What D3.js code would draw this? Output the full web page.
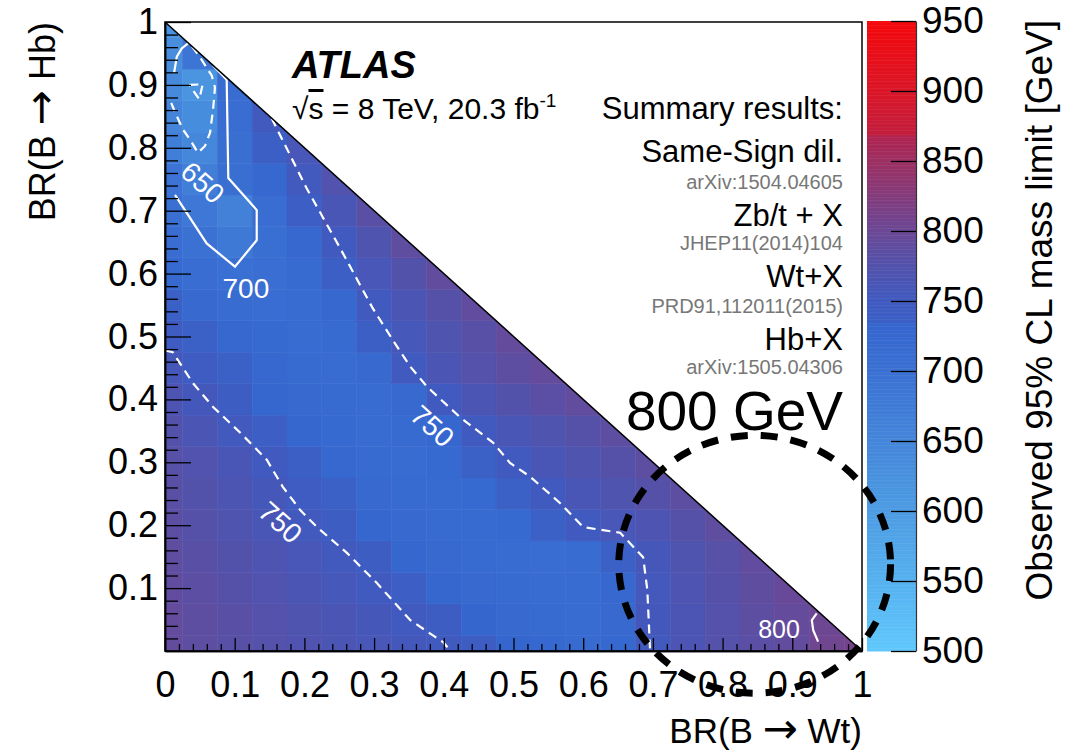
<!DOCTYPE html>
<html>
<head>
<meta charset="utf-8">
<script src="https://cdn.jsdelivr.net/npm/d3@7"></script>
<style>
body { margin: 0; background: #fff; }
svg text { font-family: "Liberation Sans", Arial, Helvetica, sans-serif; }
</style>
</head>
<body>
<svg id="chart" width="1083" height="756"></svg>
<script>

// bin centres
var brWt = [0, 0.05, 0.1, 0.15, 0.2, 0.25, 0.3, 0.35, 0.4, 0.45, 0.5,
            0.55, 0.6, 0.65, 0.7, 0.75, 0.8, 0.85, 0.9, 0.95, 1];
var brHb = [0, 0.05, 0.1, 0.15, 0.2, 0.25, 0.3, 0.35, 0.4, 0.45, 0.5,
            0.55, 0.6, 0.65, 0.7, 0.75, 0.8, 0.85, 0.9, 0.95, 1];

// observed mass limit [GeV], one row per BR(B->Hb) bin, columns along BR(B->Wt)
var massLimit = [
    [792, 786, 781, 776, 771, 765, 760, 755, 751, 742, 733, 726, 720, 726, 753, 766, 776, 783, 791, 805, 810],
    [793, 787, 782, 776, 770, 764, 757, 751, 742, 733, 725, 720, 716, 724, 755, 766, 776, 786, 794, 803],
    [790, 785, 778, 772, 765, 758, 751, 740, 732, 725, 720, 715, 714, 727, 756, 768, 778, 788, 797],
    [788, 782, 775, 768, 760, 752, 742, 732, 725, 720, 715, 712, 716, 735, 757, 770, 780, 790],
    [785, 778, 770, 762, 753, 742, 732, 725, 720, 718, 722, 735, 750, 760, 768, 778, 788],
    [782, 775, 767, 757, 745, 735, 725, 720, 718, 722, 735, 751, 762, 770, 778, 786],
    [780, 772, 763, 750, 738, 728, 720, 716, 722, 735, 751, 762, 770, 778, 786],
    [775, 765, 752, 740, 730, 722, 716, 718, 730, 750, 762, 770, 778, 786],
    [768, 755, 742, 732, 725, 718, 715, 725, 750, 765, 775, 783, 791],
    [757, 744, 735, 727, 720, 715, 725, 751, 765, 776, 786, 794],
    [745, 735, 728, 722, 716, 720, 738, 758, 770, 781, 793],
    [735, 725, 715, 712, 715, 728, 751, 765, 778, 790],
    [722, 712, 703, 708, 718, 738, 760, 775, 791],
    [712, 700, 682, 705, 728, 751, 770, 788],
    [704, 685, 662, 712, 740, 762, 782],
    [695, 670, 706, 728, 752, 772],
    [668, 648, 706, 738, 760],
    [655, 635, 712, 752],
    [640, 615, 715],
    [632, 690],
    [622]
];

var zTicks = [500, 550, 600, 650, 700, 750, 800, 850, 900, 950];
var xTickValues = [0, 0.1, 0.2, 0.3, 0.4, 0.5, 0.6, 0.7, 0.8, 0.9, 1];
var xTickLabels = ['0', '0.1', '0.2', '0.3', '0.4', '0.5', '0.6', '0.7', '0.8', '0.9', '1'];
var yTickValues = [0.1, 0.2, 0.3, 0.4, 0.5, 0.6, 0.7, 0.8, 0.9, 1];
var yTickLabels = ['0.1', '0.2', '0.3', '0.4', '0.5', '0.6', '0.7', '0.8', '0.9', '1'];

var paletteStops = [500, 550, 600, 650, 700, 734, 735, 750, 779, 800, 850, 868, 869, 900, 950];
var paletteColours = ['#60c8fc', '#56b1ef', '#4d9ce3', '#4586da', '#3b71d3', '#3566ce', '#3b60c6',
                      '#405ac0', '#5651a8', '#6b4896', '#9c3062', '#b02450', '#c21e3e', '#da1628', '#f4080c'];

// contour lines, in (BR(B->Wt), BR(B->Hb))
var contour700a = [[0.013, 0.919], [0.017, 0.945], [0.024, 0.958], [0.0335, 0.9665]];
var contour700b = [[0.069, 0.931], [0.0885, 0.908], [0.0908, 0.752], [0.1316, 0.701],
                   [0.1316, 0.653], [0.1004, 0.611], [0.0598, 0.648], [0.0143, 0.725]];
var contour650 = [[0.0387, 0.9613], [0.0502, 0.944], [0.067, 0.915], [0.0717, 0.896], [0.0689, 0.860],
                  [0.0646, 0.824], [0.0574, 0.803], [0.0473, 0.792], [0.0359, 0.813], [0.0258, 0.829],
                  [0.0143, 0.857], [0.0072, 0.876]];
var contour600 = [[0.0349, 0.900], [0.0541, 0.901], [0.0492, 0.877], [0.0349, 0.900]];
var contour750upper = [[0.153, 0.847], [0.203, 0.736], [0.251, 0.641], [0.298, 0.545], [0.327, 0.494],
                       [0.352, 0.452], [0.376, 0.420], [0.423, 0.372], [0.471, 0.331], [0.495, 0.299],
                       [0.524, 0.277], [0.567, 0.235], [0.600, 0.197], [0.653, 0.188], [0.686, 0.149],
                       [0.692, 0.097], [0.696, 0.0]];
var contour750lower = [[0.0, 0.478], [0.011, 0.475], [0.040, 0.426], [0.069, 0.388], [0.108, 0.347],
                       [0.146, 0.304], [0.169, 0.261], [0.194, 0.224], [0.218, 0.197], [0.261, 0.156],
                       [0.304, 0.108], [0.352, 0.049], [0.399, 0.014], [0.41, 0.0]];
var contour800 = [[0.935, 0.060], [0.928, 0.049], [0.930, 0.033], [0.937, 0.015]];

var contourLabels = [
    {text: '650', x: 0.0545, y: 0.745, angle: 42, size: 28},
    {text: '700', x: 0.116, y: 0.577, angle: 0, size: 28},
    {text: '750', x: 0.384, y: 0.358, angle: 42, size: 28},
    {text: '750', x: 0.166, y: 0.205, angle: 42, size: 28},
    {text: '800', x: 0.881, y: 0.035, angle: 0, size: 25}
];

var svg = d3.select('#chart');
var fontSans = '"Liberation Sans", Arial, Helvetica, sans-serif';
var fontArrow = '"DejaVu Sans", sans-serif';

var x = d3.scaleLinear().domain([0, 1]).range([165, 862]);
var y = d3.scaleLinear().domain([0, 1]).range([651, 22]);
var z = d3.scaleLinear().domain([500, 950]).range([651, 21]);
var colour = d3.scaleLinear().domain(paletteStops).range(paletteColours).clamp(true);

var halfBin = 0.025;

// triangle BR(Wt) + BR(Hb) <= 1
svg.append('clipPath')
    .attr('id', 'triangle')
    .append('polygon')
    .attr('points', [[x(0), y(0)], [x(1), y(0)], [x(0), y(1)]].map(function (p) { return p.join(','); }).join(' '));

svg.append('clipPath')
    .attr('id', 'frame')
    .append('rect')
    .attr('x', x(0)).attr('y', y(1))
    .attr('width', x(1) - x(0)).attr('height', y(0) - y(1));

var cells = [];
massLimit.forEach(function (row, j) {
    row.forEach(function (v, i) {
        cells.push({wt: brWt[i], hb: brHb[j], v: v});
    });
});

svg.append('g')
    .attr('clip-path', 'url(#triangle)')
    .selectAll('rect')
    .data(cells)
    .enter()
    .append('rect')
    .attr('x', function (d) { return x(d.wt - halfBin); })
    .attr('y', function (d) { return y(d.hb + halfBin); })
    .attr('width', function (d) { return x(d.wt + halfBin) - x(d.wt - halfBin); })
    .attr('height', function (d) { return y(d.hb - halfBin) - y(d.hb + halfBin); })
    .attr('fill', function (d) { return colour(d.v); })
    .attr('stroke', function (d) { return colour(d.v); })
    .attr('stroke-width', 0.5);

// contours
var line = d3.line()
    .x(function (d) { return x(d[0]); })
    .y(function (d) { return y(d[1]); });

var contourGroup = svg.append('g').attr('clip-path', 'url(#frame)');

[contour700a, contour700b].forEach(function (c) {
    contourGroup.append('path')
        .attr('d', line(c))
        .attr('fill', 'none')
        .attr('stroke', '#fff')
        .attr('stroke-width', 2.2);
});
[contour650, contour750upper, contour750lower, contour600, contour800].forEach(function (c) {
    contourGroup.append('path')
        .attr('d', line(c))
        .attr('fill', 'none')
        .attr('stroke', '#fff')
        .attr('stroke-width', 2.2)
        .attr('stroke-dasharray', c === contour800 ? null : '9,6');
});

contourGroup.selectAll('text.clabel')
    .data(contourLabels)
    .enter()
    .append('text')
    .attr('class', 'clabel')
    .attr('transform', function (d) { return 'translate(' + x(d.x) + ',' + y(d.y) + ') rotate(' + d.angle + ')'; })
    .attr('text-anchor', 'middle')
    .attr('dy', '0.36em')
    .attr('fill', '#fff')
    .style('font-size', function (d) { return d.size + 'px'; })
    .text(function (d) { return d.text; });

// frame and diagonal
svg.append('rect')
    .attr('x', x(0)).attr('y', y(1))
    .attr('width', x(1) - x(0)).attr('height', y(0) - y(1))
    .attr('fill', 'none')
    .attr('stroke', '#000')
    .attr('stroke-width', 1.5);

svg.append('line')
    .attr('x1', x(0)).attr('y1', y(1))
    .attr('x2', x(1)).attr('y2', y(0))
    .attr('stroke', '#000')
    .attr('stroke-width', 1.5);

// axes
var minorTicks = d3.range(0, 1.0001, 0.02).filter(function (t) {
    return Math.abs(t * 10 - Math.round(t * 10)) > 1e-6;
});

var xAxis = svg.append('g').attr('transform', 'translate(0,' + y(0) + ')');
xAxis.call(d3.axisBottom(x).tickValues(xTickValues)
    .tickFormat(function (d, i) { return xTickLabels[i]; })
    .tickSizeInner(-13).tickSizeOuter(0).tickPadding(20));
xAxis.append('g').call(d3.axisBottom(x).tickValues(minorTicks).tickFormat('')
    .tickSizeInner(-7).tickSizeOuter(0));

var yAxis = svg.append('g').attr('transform', 'translate(' + x(0) + ',0)');
yAxis.call(d3.axisLeft(y).tickValues(yTickValues)
    .tickFormat(function (d, i) { return yTickLabels[i]; })
    .tickSizeInner(-26).tickSizeOuter(0).tickPadding(7));
yAxis.append('g').call(d3.axisLeft(y).tickValues(minorTicks).tickFormat('')
    .tickSizeInner(-13).tickSizeOuter(0));

svg.selectAll('.domain').attr('stroke', '#000').attr('stroke-width', 1.5);
svg.selectAll('.tick line').attr('stroke', '#000').attr('stroke-width', 1.3);
xAxis.selectAll('text').style('font-size', '36px').style('font-family', fontSans).attr('fill', '#000');
yAxis.selectAll('text').style('font-size', '36px').style('font-family', fontSans).attr('fill', '#000');

// axis titles, arrow taken from DejaVu for a full-size glyph
function brTitle(sel, decay) {
    sel.append('tspan').text('BR(B ');
    sel.append('tspan').style('font-family', fontArrow).style('font-size', '42px').text('\u2192');
    sel.append('tspan').text(' ' + decay + ')');
}

svg.append('text')
    .attr('x', x(1)).attr('y', 743)
    .attr('text-anchor', 'end')
    .style('font-size', '35px')
    .call(brTitle, 'Wt');

svg.append('text')
    .attr('transform', 'translate(55,' + y(1) + ') rotate(-90)')
    .attr('text-anchor', 'end')
    .style('font-size', '36px')
    .call(brTitle, 'Hb');

// colour bar
var barLeft = 867, barRight = 916;
svg.append('g')
    .selectAll('rect')
    .data(d3.range(500, 950, 1))
    .enter()
    .append('rect')
    .attr('x', barLeft)
    .attr('y', function (d) { return z(d + 1); })
    .attr('width', barRight - barLeft)
    .attr('height', function (d) { return z(d) - z(d + 1) + 0.5; })
    .attr('fill', function (d) { return colour(d + 0.5); });

var zAxis = svg.append('g').attr('transform', 'translate(' + barRight + ',0)');
zAxis.call(d3.axisRight(z).tickValues(zTicks).tickSizeInner(-25).tickSizeOuter(0).tickPadding(6));
zAxis.select('.domain').attr('stroke', '#333').attr('stroke-width', 1.2);
zAxis.selectAll('.tick line').attr('stroke', '#000').attr('stroke-width', 1.3);
zAxis.selectAll('text').style('font-size', '37px').style('font-family', fontSans).attr('fill', '#000');

svg.append('text')
    .attr('transform', 'translate(1052,20) rotate(-90)')
    .attr('text-anchor', 'end')
    .style('font-size', '37px')
    .text('Observed 95% CL mass limit [GeV]');

// labels
svg.append('text')
    .attr('x', 292).attr('y', 78)
    .style('font-size', '38px')
    .style('font-weight', 'bold')
    .style('font-style', 'italic')
    .text('ATLAS');

var lumi = svg.append('text')
    .attr('x', 292).attr('y', 119)
    .style('font-size', '30px');
lumi.append('tspan').text('\u221A');
lumi.append('tspan').style('text-decoration', 'overline').text('s');
lumi.append('tspan').text(' = 8 TeV, 20.3 fb');
lumi.append('tspan').attr('dy', -12).style('font-size', '19px').text('-1');

var legendLines = [
    {text: 'Summary results:', y: 119, size: 31, fill: '#000'},
    {text: 'Same-Sign dil.', y: 162, size: 31, fill: '#000'},
    {text: 'arXiv:1504.04605', y: 189, size: 20, fill: '#777'},
    {text: 'Zb/t + X', y: 226, size: 31, fill: '#000'},
    {text: 'JHEP11(2014)104', y: 250, size: 20, fill: '#777'},
    {text: 'Wt+X', y: 287, size: 31, fill: '#000'},
    {text: 'PRD91,112011(2015)', y: 313, size: 20, fill: '#777'},
    {text: 'Hb+X', y: 350, size: 31, fill: '#000'},
    {text: 'arXiv:1505.04306', y: 374, size: 20, fill: '#777'},
    {text: '800 GeV', y: 430, size: 55, fill: '#000'}
];

svg.selectAll('text.legend')
    .data(legendLines)
    .enter()
    .append('text')
    .attr('class', 'legend')
    .attr('x', 843)
    .attr('y', function (d) { return d.y; })
    .attr('text-anchor', 'end')
    .attr('fill', function (d) { return d.fill; })
    .style('font-size', function (d) { return d.size + 'px'; })
    .text(function (d) { return d.text; });

// highlight ring
svg.append('ellipse')
    .attr('cx', x(0.846))
    .attr('cy', y(0.138))
    .attr('rx', x(0.195) - x(0))
    .attr('ry', y(0) - y(0.205))
    .attr('fill', 'none')
    .attr('stroke', '#000')
    .attr('stroke-width', 7)
    .attr('stroke-dasharray', '17,13');

</script>
</body>
</html>
